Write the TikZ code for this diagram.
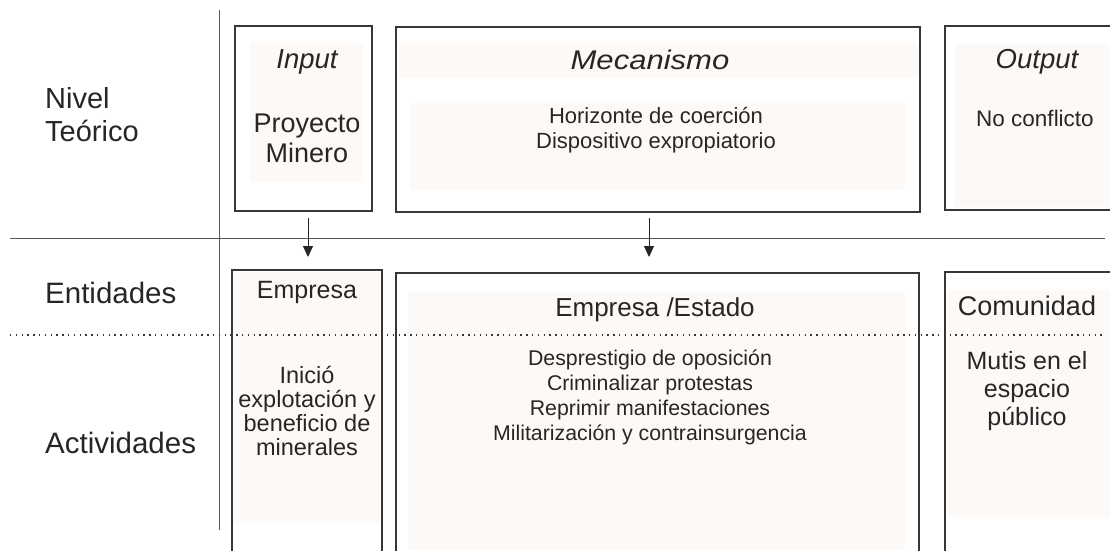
\documentclass[tikz,border=0pt]{standalone}
\usepackage{fontspec}
\setmainfont{Liberation Sans}
\newfontfamily\widefont[FakeStretch=1.15]{Liberation Sans}
\usetikzlibrary{arrows.meta}
\definecolor{linec}{RGB}{55,55,55}
\definecolor{pinkc}{RGB}{253,249,247}
\tikzset{
  boxc/.style={draw=linec, line width=1.1pt, inner sep=0pt, outer sep=0pt, anchor=north west},
  divider/.style={draw=linec!85, line width=1pt},
  dotline/.style={draw=linec, line width=1.4pt, dash pattern=on 1.4pt off 4.4pt},
  shade/.style={fill=pinkc, draw=none},
  txt/.style={inner sep=0pt, text=black!85, align=center},
  flow/.style={draw=black!85, line width=1pt, -{Triangle[width=10pt,length=11pt]}},
}
\begin{document}
\begin{tikzpicture}[x=1pt,y=-1pt]
\useasboundingbox (0,0) rectangle (1110,550);
% pink background fills
\fill[shade] (250,43) rectangle (363,182);
\fill[shade] (398,43) rectangle (918,78);
\fill[shade] (410,103) rectangle (905,190);
\fill[shade] (955,44) rectangle (1110,207);
\fill[shade] (234,272) rectangle (380,523);
\fill[shade] (408,292) rectangle (905,550);
\fill[shade] (948,290) rectangle (1110,517);
% dividers
\coordinate (vtop) at (219,10);
\coordinate (vbot) at (219,530);
\coordinate (hl) at (10,238);
\coordinate (hr) at (1105,238);
\coordinate (dl) at (10,335);
\coordinate (dr) at (1103,335);
\draw[divider] (vtop) -- (vbot);
\draw[divider] (hl) -- (hr);
% boxes
\node[boxc, minimum width=137, minimum height=185] (inp) at (235,26) {};
\node[boxc, minimum width=524, minimum height=185] (mec) at (396,27) {};
\node[boxc, minimum width=175, minimum height=184] (out) at (945,26) {};
\node[boxc, minimum width=150, minimum height=290] (emp) at (232,270) {};
\node[boxc, minimum width=523, minimum height=287] (est) at (396,273) {};
\node[boxc, minimum width=175, minimum height=288] (com) at (945,272) {};
\draw[dotline] (dl) -- (dr);
% arrows
\coordinate (a1s) at (308,218);
\coordinate (a1e) at (308,257);
\coordinate (a2s) at (649,218);
\coordinate (a2e) at (649,257);
\draw[flow] (a1s) -- (a1e);
\draw[flow] (a2s) -- (a2e);
% row labels
\node[txt, anchor=west, align=left, font=\fontsize{29}{33}\selectfont] (lniv) at (45,115) {Nivel\\Teórico};
\node[txt, anchor=west, font=\fontsize{29.5}{33}\selectfont] (lent) at (45,293) {Entidades};
\node[txt, anchor=west, font=\fontsize{29.5}{33}\selectfont] (lact) at (45,443) {Actividades};
% theoretical level
\node[txt, font=\fontsize{27.5}{30}\selectfont\itshape] (tin) at (307,62) {Input};
\node[txt, font=\fontsize{27}{30}\selectfont] (tpm) at (307,138) {Proyecto\\Minero};
\node[txt, font=\widefont\fontsize{27}{30}\selectfont\itshape] (tmec) at (650,60) {Mecanismo};
\node[txt, font=\fontsize{22}{24.5}\selectfont] (thor) at (656,130) {Horizonte de coerción\\Dispositivo expropiatorio};
\node[txt, font=\fontsize{27.5}{30}\selectfont\itshape] (tout) at (1037,62) {Output};
\node[txt, font=\fontsize{22.5}{24}\selectfont] (tnoc) at (1035,118) {No conflicto};
% entities
\node[txt, font=\fontsize{25}{29}\selectfont] (eemp) at (307,292) {Empresa};
\node[txt, font=\fontsize{26}{28}\selectfont] (eest) at (655,310) {Empresa /Estado};
\node[txt, font=\fontsize{27}{28}\selectfont] (ecom) at (1027,306) {Comunidad};
% activities
\node[txt, font=\fontsize{23.5}{24}\selectfont] (aemp) at (307,411) {Inició\\explotación y\\beneficio de\\minerales};
\node[txt, font=\fontsize{21.3}{25}\selectfont] (aest) at (650,397) {Desprestigio de oposición\\Criminalizar protestas\\Reprimir manifestaciones\\Militarización y contrainsurgencia};
\node[txt, font=\fontsize{25}{28}\selectfont] (acom) at (1027,391) {Mutis en el\\espacio\\público};
\end{tikzpicture}
\end{document}
